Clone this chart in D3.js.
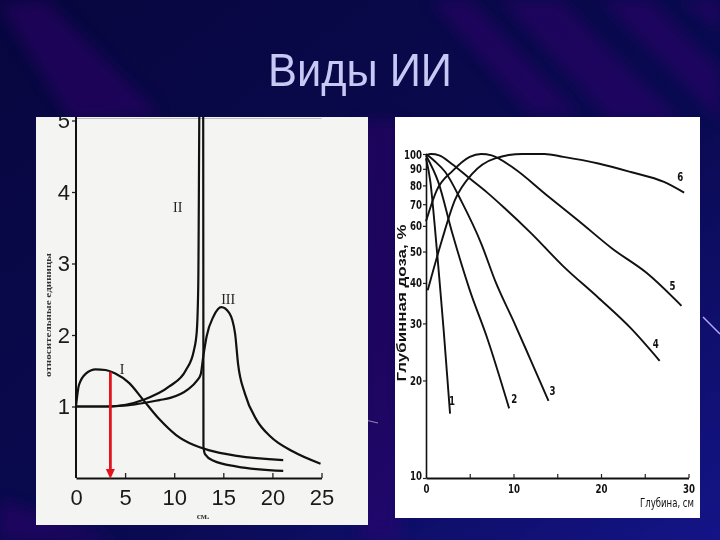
<!DOCTYPE html>
<html>
<head>
<meta charset="utf-8">
<script src="https://cdn.jsdelivr.net/npm/d3@7"></script>
<style>
  body { margin: 0; background: #0a0a4a; }
  svg { display: block; }
</style>
</head>
<body>
<div id="slide"></div>
<script>
// ---- left chart: relative units vs depth, cm ----
const xTicksLeft = [0, 5, 10, 15, 20, 25];
const yTicksLeft = [1, 2, 3, 4, 5];
const curveI = [[0,1.0],[0.3,1.3],[1,1.46],[2,1.52],[3,1.51],[4,1.46],[5.4,1.33],[6.8,1.1],[8.5,0.82],
                [10.2,0.6],[12,0.46],[13.5,0.39],[16.4,0.31],[21.1,0.25]];
const curveII = [[0,1.0],[3.4,1.0],[6.8,1.09],[9.5,1.28],[11.2,1.51],[12,1.78],[12.3,2.05],[12.45,2.7],
                 [12.6,5.6],[12.95,5.6],[12.98,0.44],[13.15,0.33],[14,0.24],[16.4,0.16],[21.1,0.10]];
const curveIII = [[0,1.0],[3,1.0],[6,1.03],[8.5,1.09],[9.6,1.12],[11.4,1.24],[12.3,1.36],[12.7,1.45],
                  [12.96,1.7],[13.3,1.98],[14,2.26],[14.8,2.39],[15.6,2.31],[16.2,2.02],[16.5,1.6],
                  [17.2,1.18],[18.4,0.81],[19.8,0.58],[22.1,0.37],[24.9,0.2]];
const curveNamesLeft = ["I", "II", "III"];
const arrowDepth = 3.5;

// ---- right chart: depth dose, % (log) vs depth, cm ----
const xTicksRight = [0, 5, 10, 15, 20, 25, 30];
const yTicksRight = [10, 20, 30, 40, 50, 60, 70, 80, 90, 100];
const pdd1 = [[0,97],[0.5,82],[1.0,60],[1.5,42],[2.0,29],[2.4,21],[2.75,15.8]];
const pdd2 = [[0,99],[1.4,82],[3,57],[5,38],[7,27],[9.5,16.4]];
const pdd3 = [[0,100],[1,95],[2.2,88],[4.1,71],[6.3,53],[8,40],[10,30.5],[12,23],[14,17.3]];
const pdd4 = [[0,99],[0.6,100],[1.5,99],[3,93],[5,84],[7,76],[9,68],[12,57],[15.7,45],[19.7,36],[23.4,29],[26.7,23]];
const pdd5 = [[0,62],[1.2,77],[3.1,89],[5,98],[6.3,100],[7.5,99],[10,90.5],[13.7,75],[17.5,62],[21.3,51],[25.2,43],[29.2,34]];
const pdd6 = [[0.2,38],[1.8,54],[3.3,72],[5.3,87],[7.9,97],[11,100],[13.5,100],[15.7,98],[19.7,93.5],[23.4,88],[27.2,82],[29.5,76]];
const pddNames = ["1", "2", "3", "4", "5", "6"];

const W = 720, H = 540;
const svg = d3.select('#slide').append('svg').attr('width', W).attr('height', H);
const defs = svg.append('defs');

/* ---------- background of the slide ---------- */
const bg = defs.append('linearGradient').attr('id', 'bg')
  .attr('x1', 0).attr('y1', 0).attr('x2', 1).attr('y2', 1);
bg.append('stop').attr('offset', 0).attr('stop-color', '#08063f');
bg.append('stop').attr('offset', 0.6).attr('stop-color', '#0a0a52');
bg.append('stop').attr('offset', 1).attr('stop-color', '#141488');
defs.append('filter').attr('id', 'soft').attr('x', -0.5).attr('y', -0.5).attr('width', 2).attr('height', 2)
  .append('feGaussianBlur').attr('stdDeviation', 7);

svg.append('rect').attr('width', W).attr('height', H).attr('fill', 'url(#bg)');

// diagonal purple streaks
const streaks = [
  [[0,5],[45,0],[160,115],[70,120]],
  [[430,0],[470,0],[580,115],[530,115]],
  [[500,0],[560,0],[680,120],[610,120]],
  [[600,0],[650,0],[720,70],[720,120]],
  [[680,0],[720,0],[720,30]],
  [[360,120],[400,120],[400,540],[360,540]],
  [[0,500],[120,540],[0,540]]
];
svg.append('g').attr('filter', 'url(#soft)')
  .selectAll('polygon').data(streaks).join('polygon')
  .attr('points', d => d.map(p => p.join(',')).join(' '))
  .attr('fill', '#340c70').attr('opacity', 0.45);

svg.append('text')
  .attr('x', 360).attr('y', 86)
  .attr('text-anchor', 'middle')
  .attr('font-family', 'Liberation Sans, Arial, sans-serif')
  .attr('font-size', 47)
  .attr('textLength', 184).attr('lengthAdjust', 'spacingAndGlyphs')
  .attr('fill', '#c8c8f4')
  .text('Виды ИИ');

// small scraps of the scan on the dark background
svg.append('line').attr('x1', 703).attr('y1', 317).attr('x2', 720).attr('y2', 334)
  .attr('stroke', '#b9a8ff').attr('stroke-width', 1.4);
svg.append('line').attr('x1', 340).attr('y1', 414).attr('x2', 378).attr('y2', 423)
  .attr('stroke', '#ffffff').attr('stroke-opacity', 0.5).attr('stroke-width', 1.2);

/* ---------- left panel ---------- */
const leftPanel = {x: 36, y: 117, w: 332, h: 408};
svg.append('rect').attr('x', leftPanel.x).attr('y', leftPanel.y)
  .attr('width', leftPanel.w).attr('height', leftPanel.h).attr('fill', '#f4f4f2');
defs.append('clipPath').attr('id', 'clipL').append('rect')
  .attr('x', leftPanel.x).attr('y', leftPanel.y).attr('width', leftPanel.w).attr('height', leftPanel.h);

const gL = svg.append('g').attr('clip-path', 'url(#clipL)');
const xL = d3.scaleLinear().domain([0, 25]).range([76, 321.5]);
const yL = d3.scaleLinear().domain([0, 5]).range([478, 120.5]);

// faint top rule of the scan
gL.append('line').attr('x1', xL(0)).attr('x2', xL(25)).attr('y1', 118.5).attr('y2', 118.5)
  .attr('stroke', '#bdbdbd').attr('stroke-width', 1);

const axL_y = gL.append('g').attr('transform', `translate(${xL(0)},0)`)
  .call(d3.axisLeft(yL).tickValues(yTicksLeft).tickFormat(d3.format('d'))
    .tickSizeInner(4).tickSizeOuter(0).tickPadding(2));
axL_y.select('.domain').remove();
gL.append('line').attr('x1', xL(0)).attr('x2', xL(0)).attr('y1', yL(0)).attr('y2', leftPanel.y)
  .attr('stroke', '#111').attr('stroke-width', 2);

const axL_x = gL.append('g').attr('transform', `translate(0,${yL(0)})`)
  .call(d3.axisBottom(xL).tickValues(xTicksLeft).tickFormat(d3.format('d'))
    .tickSizeInner(-5).tickSizeOuter(0).tickPadding(11));
axL_x.select('.domain').attr('stroke', '#111').attr('stroke-width', 2);

[axL_y, axL_x].forEach(a => {
  a.attr('font-family', 'Liberation Sans, Arial, sans-serif').attr('font-size', 22);
  a.selectAll('.tick line').attr('stroke', '#222').attr('stroke-width', 1.3);
  a.selectAll('.tick text').attr('fill', '#1a1a1a');
});
axL_x.selectAll('.tick').filter(d => d === 0).select('line').remove();

const lineL = d3.line().x(d => xL(d[0])).y(d => yL(d[1])).curve(d3.curveMonotoneX);
gL.selectAll('path.curve').data([curveI, curveII, curveIII]).join('path')
  .attr('class', 'curve')
  .attr('d', lineL)
  .attr('fill', 'none').attr('stroke', '#111').attr('stroke-width', 2.2);

// curve labels I, II, III (data coordinates next to each curve)
const leftLabelAt = [[4.7, 1.52], [10.35, 3.79], [15.5, 2.5]];
gL.selectAll('text.lbl').data(curveNamesLeft).join('text')
  .attr('class', 'lbl')
  .attr('x', (d, i) => xL(leftLabelAt[i][0]))
  .attr('y', (d, i) => yL(leftLabelAt[i][1]))
  .attr('dy', '0.35em').attr('text-anchor', 'middle')
  .attr('font-family', 'Liberation Serif, Times New Roman, serif').attr('font-size', 14)
  .attr('fill', '#222')
  .text(d => d);

// red arrow from curve I down to the depth axis
const bis = d3.bisector(d => d[0]).left;
const k = bis(curveI, arrowDepth);
const p0 = curveI[k - 1], p1 = curveI[k];
const arrowTop = p0[1] + (p1[1] - p0[1]) * (arrowDepth - p0[0]) / (p1[0] - p0[0]);
gL.append('line')
  .attr('x1', xL(arrowDepth)).attr('x2', xL(arrowDepth))
  .attr('y1', yL(arrowTop)).attr('y2', yL(0) - 8)
  .attr('stroke', '#e4121c').attr('stroke-width', 2.8);
gL.append('path')
  .attr('d', `M${xL(arrowDepth) - 4.5},${yL(0) - 9}L${xL(arrowDepth) + 4.5},${yL(0) - 9}L${xL(arrowDepth)},${yL(0) + 1}Z`)
  .attr('fill', '#e4121c');

gL.append('text')
  .attr('transform', `translate(48,315) rotate(-90)`)
  .attr('text-anchor', 'middle').attr('dy', '0.35em')
  .attr('font-family', 'Liberation Serif, Times New Roman, serif').attr('font-weight', 'bold')
  .attr('font-size', 9).attr('textLength', 124).attr('lengthAdjust', 'spacingAndGlyphs')
  .attr('fill', '#333')
  .text('относительные единицы');
gL.append('text')
  .attr('x', 203).attr('y', 519).attr('text-anchor', 'middle')
  .attr('font-family', 'Liberation Serif, Times New Roman, serif').attr('font-weight', 'bold')
  .attr('font-size', 9).attr('fill', '#333')
  .text('см.');

/* ---------- right panel ---------- */
svg.append('rect').attr('x', 395).attr('y', 117).attr('width', 305).attr('height', 401).attr('fill', '#ffffff');

const gR = svg.append('g');
const xR = d3.scaleLinear().domain([0, 30]).range([426, 688.5]);
const yR = d3.scaleLog().domain([10, 100]).range([478, 154]);
const narrow = 'Liberation Sans Narrow, DejaVu Sans Condensed, Arial Narrow, sans-serif';

const axR_y = gR.append('g').attr('transform', `translate(${xR(0)},0)`)
  .call(d3.axisLeft(yR).tickValues(yTicksRight).tickFormat(d3.format('d'))
    .tickSizeInner(3).tickSizeOuter(0).tickPadding(1));
axR_y.select('.domain').attr('stroke', '#111').attr('stroke-width', 1.6);

const axR_x = gR.append('g').attr('transform', `translate(0,${yR(10)})`)
  .call(d3.axisBottom(xR).tickValues(xTicksRight).tickFormat(d => d % 10 === 0 ? d : '')
    .tickSizeInner(-4).tickSizeOuter(0).tickPadding(6));
axR_x.select('.domain').attr('stroke', '#111').attr('stroke-width', 2);

[axR_y, axR_x].forEach(a => {
  a.attr('font-family', narrow).attr('font-size', 12.5).attr('font-weight', 'bold');
  a.selectAll('.tick line').attr('stroke', '#222').attr('stroke-width', 1.2);
  a.selectAll('.tick text').attr('fill', '#111')
    .attr('textLength', function () { return this.textContent.length * 6; })
    .attr('lengthAdjust', 'spacingAndGlyphs');
});
axR_x.selectAll('.tick').filter(d => d === 0).select('line').remove();
axR_x.selectAll('.tick text').filter(function () { return this.textContent === ''; }).remove();
// the "10" of the dose scale sits just above the depth "0"
axR_y.selectAll('.tick').filter(d => d === 10).select('text').attr('dy', '0.1em');

const lineR = d3.line().x(d => xR(d[0])).y(d => yR(d[1])).curve(d3.curveMonotoneX);
const pddCurves = [pdd1, pdd2, pdd3, pdd4, pdd5, pdd6];
gR.selectAll('path.pdd').data(pddCurves).join('path')
  .attr('class', 'pdd')
  .attr('d', lineR)
  .attr('fill', 'none').attr('stroke', '#111').attr('stroke-width', 1.9);

// numbers placed a little off the end of each curve
const pddLabelShift = [[2, -13], [5, -10], [4, -10], [-4, -17], [-9, -20], [-4, -16]];
gR.selectAll('text.num').data(pddCurves).join('text')
  .attr('class', 'num')
  .attr('x', (d, i) => xR(d[d.length - 1][0]) + pddLabelShift[i][0])
  .attr('y', (d, i) => yR(d[d.length - 1][1]) + pddLabelShift[i][1])
  .attr('dy', '0.35em').attr('text-anchor', 'middle')
  .attr('font-family', narrow).attr('font-weight', 'bold').attr('font-size', 13)
  .attr('textLength', 6).attr('lengthAdjust', 'spacingAndGlyphs')
  .attr('fill', '#111')
  .text((d, i) => pddNames[i]);

gR.append('text')
  .attr('transform', 'translate(401,303) rotate(-90)')
  .attr('text-anchor', 'middle').attr('dy', '0.35em')
  .attr('font-family', 'Liberation Sans, Arial, sans-serif').attr('font-weight', 'bold').attr('font-size', 13)
  .attr('textLength', 157).attr('lengthAdjust', 'spacingAndGlyphs')
  .attr('fill', '#111')
  .text('Глубинная доза, %');
gR.append('text')
  .attr('x', 694).attr('y', 507).attr('text-anchor', 'end')
  .attr('font-family', narrow).attr('font-size', 12)
  .attr('textLength', 54).attr('lengthAdjust', 'spacingAndGlyphs')
  .attr('fill', '#111')
  .text('Глубина, см');
</script>
</body>
</html>
